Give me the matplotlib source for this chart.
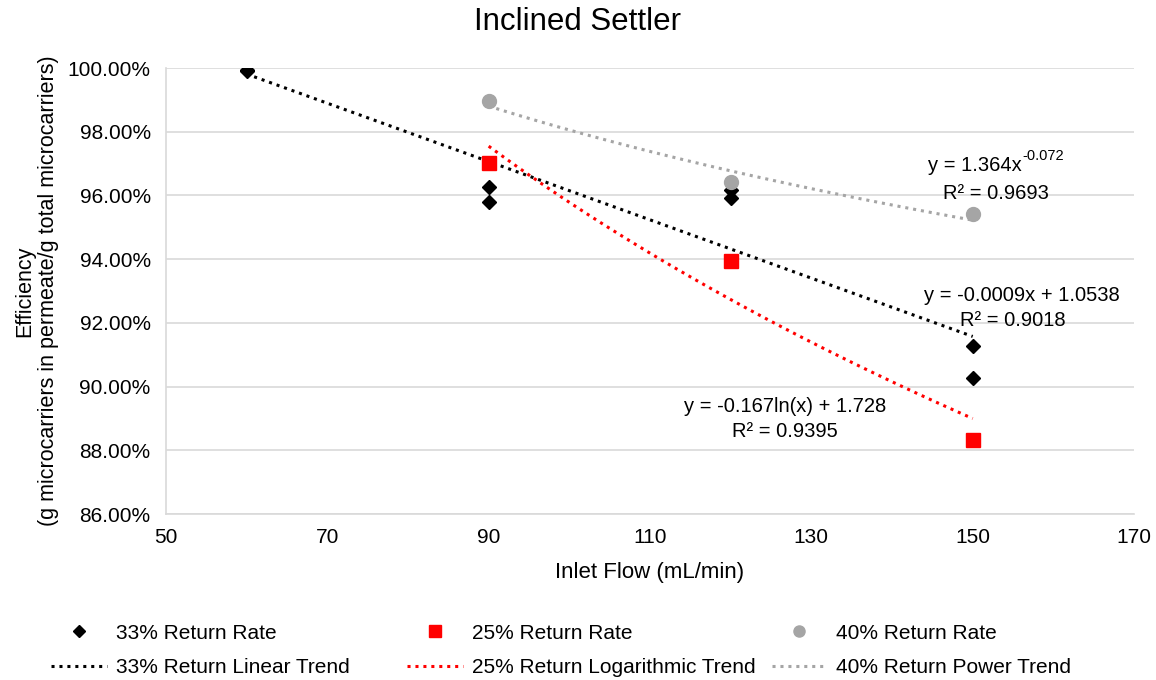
import numpy as np
import matplotlib
matplotlib.use("Agg")
import matplotlib.pyplot as plt
from matplotlib.ticker import PercentFormatter, MultipleLocator

plt.rcParams['font.family'] = ['Liberation Sans', 'DejaVu Sans']

# data
flow_33 = [60, 60, 90, 90, 120, 120, 150, 150]
eff_33 = [0.9995, 0.9990, 0.9627, 0.9579, 0.9617, 0.9592, 0.9127, 0.9027]
flow_25 = [90, 120, 150]
eff_25 = [0.9702, 0.9394, 0.8832]
flow_40 = [90, 120, 150]
eff_40 = [0.9896, 0.9642, 0.9542]

labels = ["33% Return Rate", "25% Return Rate", "40% Return Rate",
          "33% Return Linear Trend", "25% Return Logarithmic Trend", "40% Return Power Trend"]
eq_lin = ["y = -0.0009x + 1.0538", "R² = 0.9018"]
eq_log = ["y = -0.167ln(x) + 1.728", "R² = 0.9395"]
eq_pow = ["y = 1.364x", "-0.072", "R² = 0.9693"]

gray = "#A5A5A5"
fig = plt.figure(figsize=(11.56, 6.8), dpi=100)
ax = fig.add_axes([0.1436, 0.244, 0.8374, 0.656])

# trend fits
x33 = np.array(flow_33, float)
p_lin = np.polyfit(x33, eff_33, 1)
xl = np.linspace(x33.min(), x33.max(), 100)
x25 = np.array(flow_25, float)
p_log = np.polyfit(np.log(x25), eff_25, 1)
xg = np.linspace(x25.min(), x25.max(), 100)
x40 = np.array(flow_40, float)
p_pow = np.polyfit(np.log(x40), np.log(eff_40), 1)
xp = np.linspace(x40.min(), x40.max(), 100)

dots = (0, (1, 1.6))
h1, = ax.plot(flow_33, eff_33, 'D', color='black', ms=7.5, ls='none', zorder=3)
h2, = ax.plot(flow_25, eff_25, 's', color='red', ms=10, ls='none', zorder=3)
h3, = ax.plot(flow_40, eff_40, 'o', color=gray, ms=10, ls='none', zorder=3)
h4, = ax.plot(xl, np.polyval(p_lin, xl), color='black', lw=2.2, ls=dots, zorder=2)
h5, = ax.plot(xg, np.polyval(p_log, np.log(xg)), color='red', lw=2.2, ls=dots, zorder=2)
h6, = ax.plot(xp, np.exp(np.polyval(p_pow, np.log(xp))), color=gray, lw=2.2, ls=dots, zorder=2)

ax.set_xlim(50, 170)
ax.set_ylim(0.86, 1.0)
ax.set_xticks(np.arange(50, 171, 20))
ax.yaxis.set_major_locator(MultipleLocator(0.02))
ax.yaxis.set_major_formatter(PercentFormatter(xmax=1, decimals=2))
ax.tick_params(length=0, labelsize=15)
ax.tick_params(axis='y', pad=11)
ax.tick_params(axis='x', pad=10)
ax.grid(axis='y', color='#D9D9D9', lw=1.2)
ax.set_axisbelow(True)
for s in ['top', 'right']:
    ax.spines[s].set_visible(False)
for s in ['left', 'bottom']:
    ax.spines[s].set_color('#D9D9D9')
    ax.spines[s].set_linewidth(1.2)

fig.text(0.5, 0.967, "Inclined Settler", ha='center', va='center', fontsize=22.5)
ax.set_xlabel("Inlet Flow (mL/min)", fontsize=16, labelpad=11)
ax.set_ylabel("Efficiency\n(g microcarriers in permeate/g total microcarriers)", fontsize=15.5, labelpad=6)

fs = 14.5
t = ax.text(144.5, 0.96955, eq_pow[0], ha='left', va='center', fontsize=fs)
ax.annotate(eq_pow[1], xy=(1.0, 0.6), xycoords=t, ha='left', va='bottom', fontsize=10.5)
ax.text(152.9, 0.9605, eq_pow[2], ha='center', va='center', fontsize=fs)
ax.text(156.1, 0.92875, eq_lin[0], ha='center', va='center', fontsize=fs)
ax.text(155.0, 0.9206, eq_lin[1], ha='center', va='center', fontsize=fs)
ax.text(126.7, 0.8939, eq_log[0], ha='center', va='center', fontsize=fs)
ax.text(126.7, 0.8858, eq_log[1], ha='center', va='center', fontsize=fs)

# three legend columns placed like the spreadsheet layout
cols = [(h1, h4, labels[0], labels[3], 0.0445),
        (h2, h5, labels[1], labels[4], 0.3525),
        (h3, h6, labels[2], labels[5], 0.6675)]
for ha, hb, la, lb, x0 in cols:
    fig.legend([ha, hb], [la, lb], loc='upper left', bbox_to_anchor=(x0, 0.083),
               frameon=False, fontsize=15, handlelength=2.65, handletextpad=0.45,
               labelspacing=0.74, borderaxespad=0, borderpad=0, markerscale=0.8)

fig.savefig("out.png", dpi=100)
